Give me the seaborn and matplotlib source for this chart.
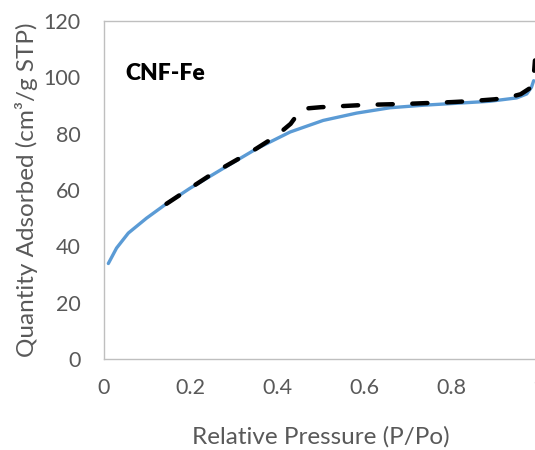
import matplotlib
matplotlib.use("Agg")
import matplotlib.pyplot as plt
import seaborn as sns
import pandas as pd

# Adsorption branch (solid blue)
ads_p = [0.010, 0.029, 0.056, 0.098, 0.140, 0.198, 0.275, 0.352, 0.429, 0.505,
         0.582, 0.659, 0.736, 0.813, 0.889, 0.951, 0.974, 0.985, 0.990]
ads_q = [33.9, 39.4, 44.7, 50.0, 54.7, 60.6, 67.7, 74.7, 80.6, 84.7,
         87.3, 89.2, 90.1, 90.8, 91.5, 92.7, 94.1, 96.5, 98.8]

# Desorption branch (dashed black), listed from low to high pressure
des_p = [0.144, 0.200, 0.250, 0.300, 0.350, 0.395, 0.430, 0.455, 0.500, 0.600,
         0.700, 0.800, 0.850, 0.900, 0.930, 0.960, 0.985, 0.990, 0.993]
des_q = [55.1, 60.8, 65.8, 70.2, 74.6, 79.0, 83.5, 88.8, 89.4, 90.2,
         90.6, 91.2, 91.6, 92.2, 92.8, 94.0, 96.5, 100.0, 106.0]

x_ticks = [0, 0.2, 0.4, 0.6, 0.8, 1]
x_ticklabels = ["0", "0.2", "0.4", "0.6", "0.8", "1"]
y_ticks = [0, 20, 40, 60, 80, 100, 120]

sns.set_style("white")
plt.rcParams["font.family"] = ["Lato", "DejaVu Sans"]

fig = plt.figure(figsize=(5.35, 4.5), dpi=100)
ax = fig.add_axes([104 / 535, 91 / 450, 434 / 535, 338 / 450])

ads = pd.DataFrame({"p": ads_p, "q": ads_q})
des = pd.DataFrame({"p": des_p, "q": des_q})

sns.lineplot(data=ads, x="p", y="q", ax=ax, color="#5B9BD5", linewidth=2.4,
             sort=False, estimator=None)
sns.lineplot(data=des, x="p", y="q", ax=ax, color="black", linewidth=3.2,
             sort=False, estimator=None, dashes=False)
line = ax.lines[-1]
line.set_dashes((3.4, 4.4))
line.set_dash_capstyle("round")

ax.set_xlim(0, 1)
ax.set_ylim(0, 120)
ax.set_xticks(x_ticks)
ax.set_xticklabels(x_ticklabels)
ax.set_yticks(y_ticks)
ax.tick_params(axis="both", length=0, labelsize=15.5, labelcolor="#595959")
ax.tick_params(axis="x", pad=14)
ax.tick_params(axis="y", pad=17)

for s in ax.spines.values():
    s.set_color("#BFBFBF")
    s.set_linewidth(1.0)

ax.set_xlabel("Relative Pressure (P/Po)", fontsize=17.5, color="#595959", labelpad=20)
ax.set_ylabel("Quantity Adsorbed (cm³/g STP)", fontsize=17.5, color="#595959", labelpad=4)

ax.text(21 / 434, (359 - 73) / 338, "CNF-Fe", transform=ax.transAxes, fontsize=16.5,
        fontweight="heavy", color="black", va="center", ha="left")

fig.savefig("out.png", dpi=100)
